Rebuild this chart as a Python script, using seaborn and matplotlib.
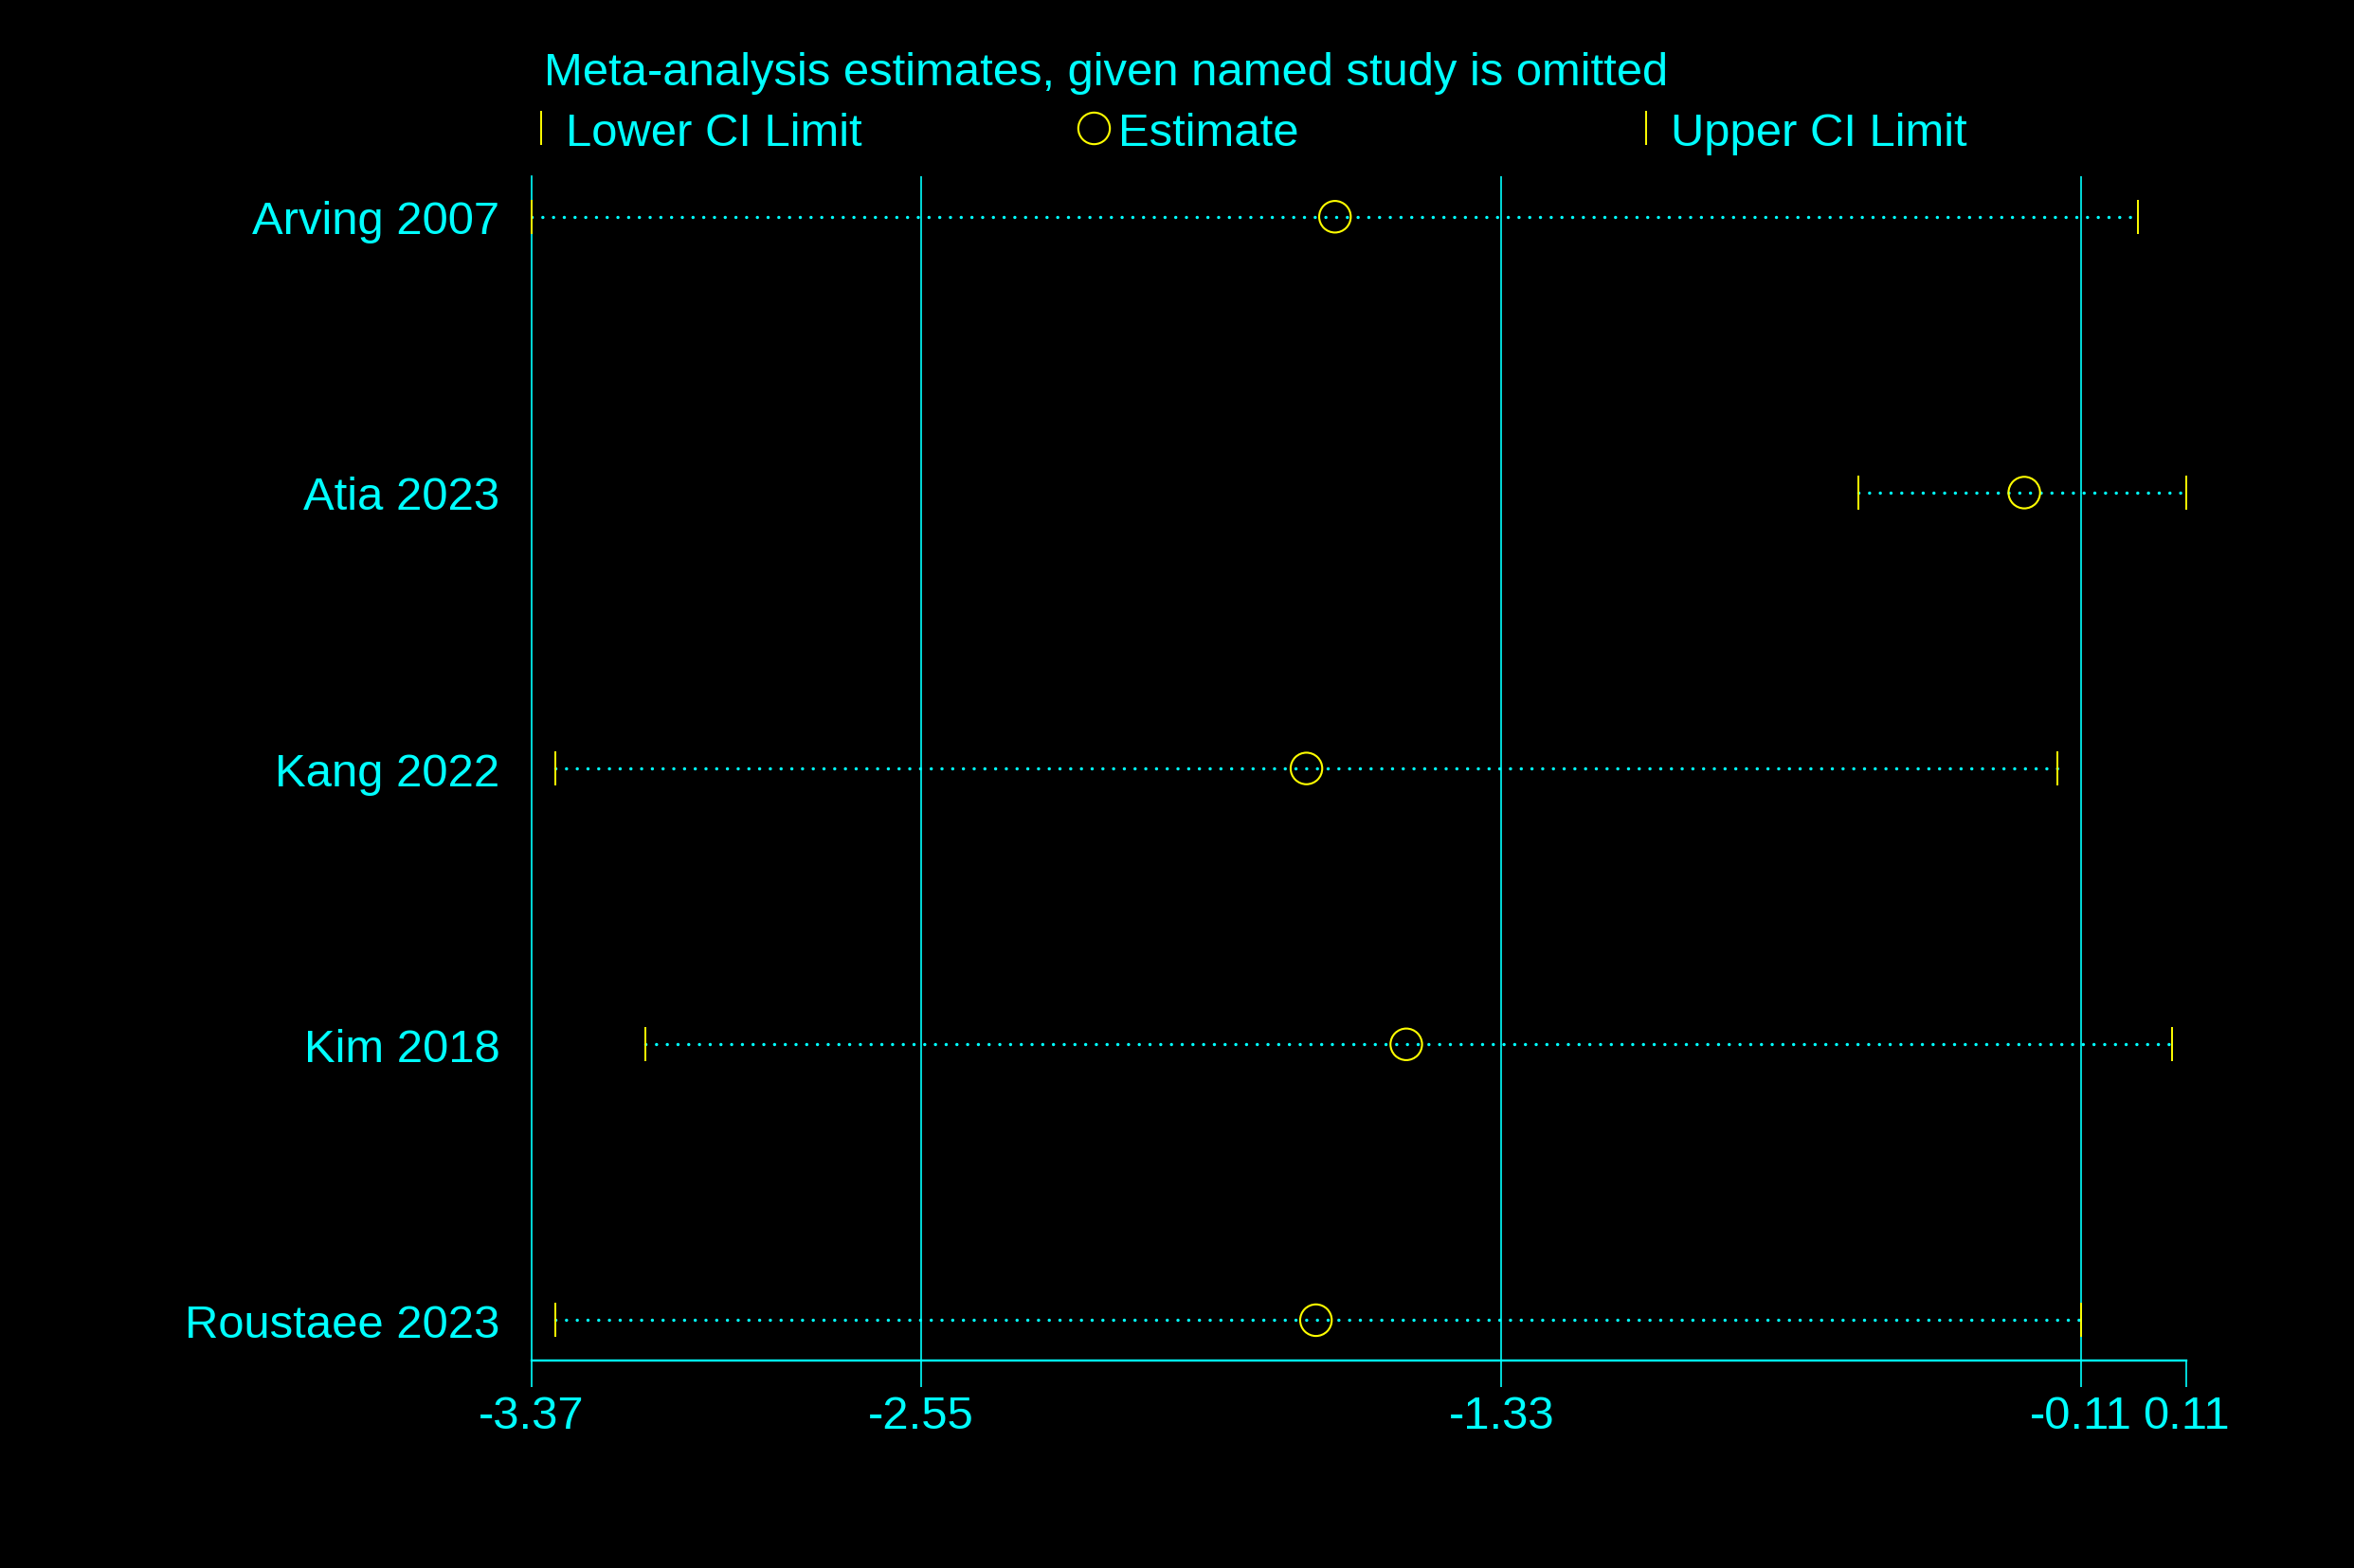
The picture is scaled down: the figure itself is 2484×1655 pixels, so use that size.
import matplotlib
matplotlib.use("Agg")
import pandas as pd
import matplotlib.pyplot as plt
import seaborn as sns
from matplotlib.lines import Line2D

# leave-one-out meta-analysis
studies = ["Arving 2007", "Atia 2023", "Kang 2022", "Kim 2018", "Roustaee 2023"]
lower = [-3.37, -0.58, -3.32, -3.13, -3.32]
estimate = [-1.68, -0.23, -1.74, -1.53, -1.72]
upper = [0.01, 0.11, -0.16, 0.08, -0.11]

x_ticks = [-3.37, -2.55, -1.33, -0.11, 0.11]
x_tick_labels = ["-3.37", "-2.55", "-1.33", "-0.11", "0.11"]
grid_x = [-2.55, -1.33, -0.11]

title = "Meta-analysis estimates, given named study is omitted"
legend_labels = ["Lower CI Limit", "Estimate", "Upper CI Limit"]

CYAN = "#00ffff"
YELLOW = "#ffff00"
FS = 35.3

df = pd.DataFrame({"study": studies, "lower": lower,
                   "estimate": estimate, "upper": upper})

sns.set_theme(style="white")
plt.rcParams["font.family"] = ["Liberation Sans", "DejaVu Sans"]

fig = plt.figure(figsize=(24.84, 16.56), dpi=100, facecolor="black")
ax = fig.add_axes([0.2258, 0.1321, 0.7028, 0.755])
ax.set_facecolor("black")

# CI limits and estimate
sns.scatterplot(data=df, x="lower", y="study", marker="|", s=26**2,
                color=YELLOW, linewidth=1.4, clip_on=False, zorder=4, ax=ax)
sns.scatterplot(data=df, x="upper", y="study", marker="|", s=26**2,
                color=YELLOW, linewidth=1.4, clip_on=False, zorder=4, ax=ax)
sns.scatterplot(data=df, x="estimate", y="study", marker="o", s=24**2,
                color=YELLOW, facecolor="none", edgecolor=YELLOW,
                linewidth=1.5, clip_on=False, zorder=5, ax=ax)

# dotted lines between the limits
lc = ax.hlines(df["study"], df["lower"], df["upper"], colors=CYAN,
               linewidth=2.5, linestyles=(0, (0.01, 3.25)), zorder=3)
lc.set_capstyle("round")

# vertical grid lines
ax.vlines(grid_x, 0, 1, transform=ax.get_xaxis_transform(),
          colors=CYAN, linewidth=1.2, zorder=1)

ax.set_xlim(x_ticks[0], x_ticks[-1])
ax.set_ylim(len(studies) - 1 + 0.147, -0.147)

ax.set_xticks(x_ticks)
ax.set_xticklabels(x_tick_labels)
ax.tick_params(axis="x", colors=CYAN, length=20, width=1.2,
               labelsize=FS, pad=6, bottom=True)
ax.tick_params(axis="y", length=0, pad=24, labelsize=FS, labelcolor=CYAN)
ax.set_xlabel("")
ax.set_ylabel("")

for side in ["top", "right"]:
    ax.spines[side].set_visible(False)
ax.spines["left"].set_color(CYAN)
ax.spines["left"].set_linewidth(1.2)
ax.spines["bottom"].set_color(CYAN)
ax.spines["bottom"].set_linewidth(1.7)

fig.text(0.2309, 0.953, title, color=CYAN, fontsize=FS, ha="left", va="center")

# legend: three entries spaced evenly like the original
handles = [
    Line2D([], [], marker="|", linestyle="none", color=YELLOW,
           markersize=26, markeredgewidth=1.4),
    Line2D([], [], marker="o", linestyle="none", markerfacecolor="none",
           markeredgecolor=YELLOW, markersize=24, markeredgewidth=1.5),
    Line2D([], [], marker="|", linestyle="none", color=YELLOW,
           markersize=26, markeredgewidth=1.4),
]
legend_x = [0.2258, 0.4605, 0.6952]
for h, lab, lx in zip(handles, legend_labels, legend_x):
    leg = fig.legend(handles=[h], labels=[lab], loc="center left",
                     bbox_to_anchor=(lx, 0.9148), frameon=False,
                     fontsize=FS, handlelength=0.4, handletextpad=0.34,
                     borderpad=0, borderaxespad=0)
    for t in leg.get_texts():
        t.set_color(CYAN)

fig.savefig("out.png", dpi=100, facecolor="black")
